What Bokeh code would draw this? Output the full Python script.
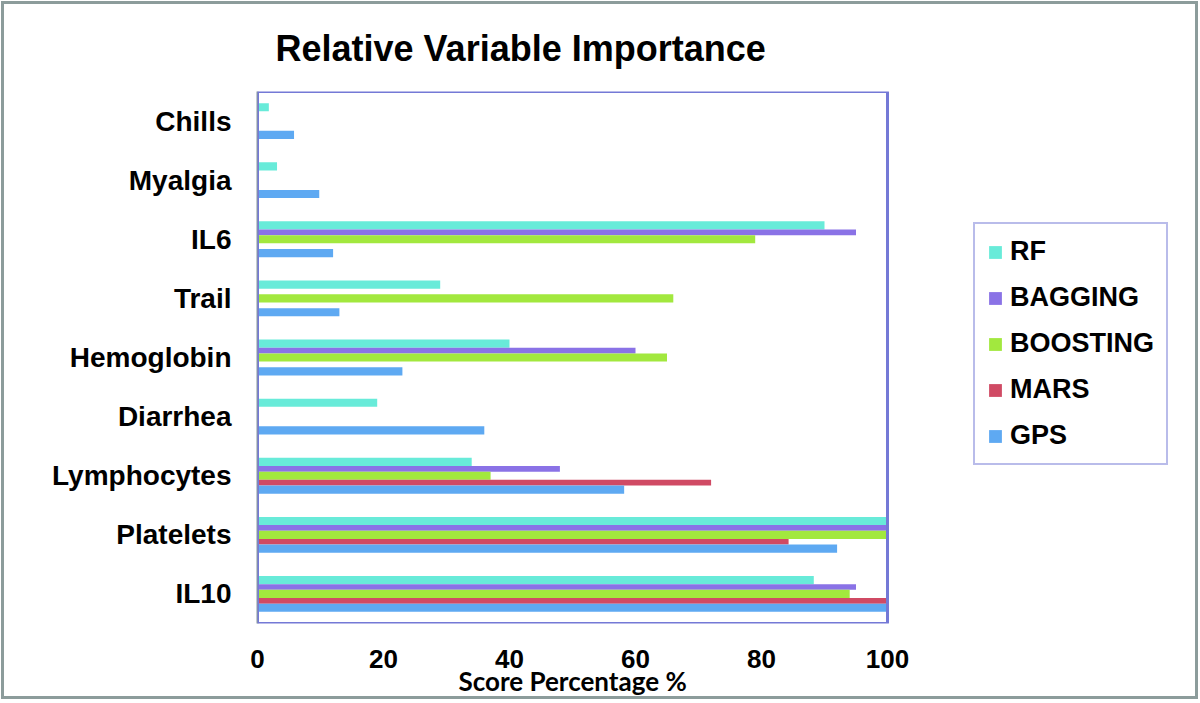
from bokeh.plotting import figure
from bokeh.models import (ColumnDataSource, FactorRange, Range1d, Legend, LegendItem,
                          FixedTicker, Title, BoxAnnotation, InlineStyleSheet)
from bokeh.transform import dodge
from bokeh.embed import file_html
from bokeh.resources import INLINE

# ---- data (top to bottom as in the chart) ----
categories = ["Chills", "Myalgia", "IL6", "Trail", "Hemoglobin", "Diarrhea",
              "Lymphocytes", "Platelets", "IL10"]
series_names = ["RF", "BAGGING", "BOOSTING", "MARS", "GPS"]
rf       = [1.8, 3.1, 90.0, 29.0, 40.0, 19.0, 34.0, 100.0, 88.3]
bagging  = [0.0, 0.0, 95.0, 0.0, 60.0, 0.0, 48.0, 100.0, 95.0]
boosting = [0.0, 0.0, 79.0, 66.0, 65.0, 0.0, 37.0, 100.0, 94.0]
mars     = [0.0, 0.0, 0.0, 0.0, 0.0, 0.0, 72.0, 84.3, 100.0]
gps      = [5.8, 9.8, 12.0, 13.0, 23.0, 36.0, 58.2, 92.0, 100.0]
x_ticks = [0, 20, 40, 60, 80, 100]
x_max = 100

colors = ["#68EBD9", "#8A72E6", "#A2E83E", "#D04A64", "#5EA9F2"]
offsets = [0.234, 0.117, 0.0, -0.117, -0.234]
heights = [0.138, 0.096, 0.138, 0.096, 0.138]

source = ColumnDataSource(dict(cat=categories, RF=rf, BAGGING=bagging,
                               BOOSTING=boosting, MARS=mars, GPS=gps))

# layout (pixels): plotting box 257..887, frame extended right so legend fits
box_left, box_right, frame_right, W, H = 257, 887, 1195, 1200, 703
x_end = x_max * (frame_right - box_left) / (box_right - box_left)

p = figure(width=W, height=H, output_backend="svg", toolbar_location=None,
           y_range=FactorRange(*reversed(categories), range_padding=0),
           x_range=Range1d(0, x_end),
           min_border_left=box_left, min_border_right=W - frame_right,
           min_border_top=91, min_border_bottom=80)

items = []
for name, col, off, h in zip(series_names, colors, offsets, heights):
    r = p.hbar(y=dodge("cat", off, range=p.y_range), left=0, right=name, height=h,
               source=source, fill_color=col, line_color=None)
    items.append(LegendItem(label=name, renderers=[r]))

# blue box around the 0..100 plotting area
p.add_layout(BoxAnnotation(left=0, right=x_max, fill_color=None, fill_alpha=0,
                           line_color="#7479D6", line_alpha=1, line_width=3,
                           level="overlay"))

p.title = Title(text="Relative Variable Importance", align="left", offset=18,
                text_font="Liberation Sans", text_font_size="36px",
                text_font_style="bold", text_color="black", standoff=45)

p.xgrid.visible = False
p.ygrid.visible = False
p.background_fill_color = "white"
p.border_fill_color = "white"
p.outline_line_color = None

# y axis
p.yaxis.axis_line_color = "#8C9C9B"
p.yaxis.axis_line_width = 2
p.yaxis.major_tick_line_color = None
p.yaxis.minor_tick_line_color = None
p.yaxis.major_label_text_font = "Liberation Sans"
p.yaxis.major_label_text_font_size = "28px"
p.yaxis.major_label_text_font_style = "bold"
p.yaxis.major_label_text_color = "black"
p.yaxis.major_label_standoff = 20

# x axis
p.xaxis.ticker = FixedTicker(ticks=x_ticks)
p.xaxis.axis_line_color = None
p.xaxis.major_tick_line_color = None
p.xaxis.minor_tick_line_color = None
p.xaxis.major_label_text_font = "Liberation Sans"
p.xaxis.major_label_text_font_size = "26px"
p.xaxis.major_label_text_font_style = "bold"
p.xaxis.major_label_text_color = "black"
p.xaxis.major_label_standoff = 20

p.add_layout(Title(text="Score Percentage %", align="left", offset=201,
                   vertical_align="top",
                   text_font="Lato", text_font_size="26px", text_font_style="bold",
                   text_color="black", standoff=-12), "below")

legend = Legend(items=items, location=(973 - box_left, 158), orientation="vertical",
                border_line_color="#7479D6", border_line_width=2,
                background_fill_color="white", background_fill_alpha=1,
                padding=12, margin=0, spacing=15,
                glyph_width=16, glyph_height=16, label_height=25,
                label_standoff=7,
                label_text_font="Liberation Sans", label_text_font_size="27px",
                label_text_font_style="bold", label_text_color="black")
p.add_layout(legend, "center")

p.stylesheets = [InlineStyleSheet(css=(
    ":host { position: relative; }"
    ":host::after { content: ''; position: absolute; left: 1px; top: 1px; right: 2px;"
    " bottom: 4px; border: 3px solid #8C9C9B; pointer-events: none; z-index: 1000; }"))]

open("out.html", "w").write(file_html(p, INLINE))
